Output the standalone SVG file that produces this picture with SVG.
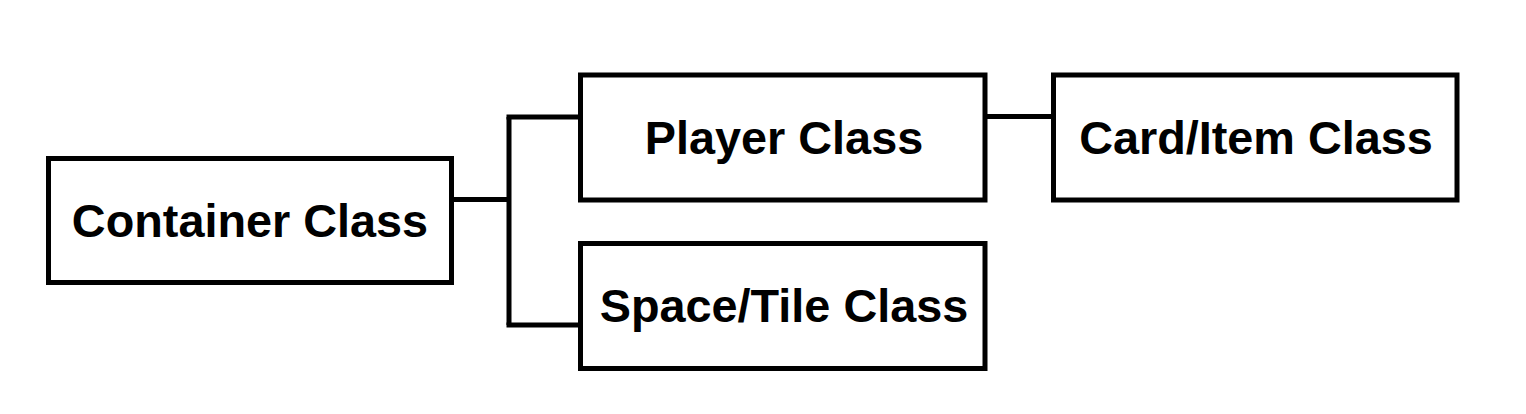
<svg xmlns="http://www.w3.org/2000/svg" width="1526" height="414" viewBox="0 0 1526 414">
<style>
.box{fill:#fff;stroke:#000;stroke-width:5}
.lbl{font-family:"Liberation Sans",Arial,sans-serif;font-weight:bold;font-size:46.8px;fill:#000;text-anchor:middle}
.conn{fill:none;stroke:#000;stroke-width:5}
</style>
<rect width="1526" height="414" fill="#fff"/>
<g id="connectors">
<path class="conn" d="M451,199.5 H509"/>
<path class="conn" d="M509,117 V325"/>
<path class="conn" d="M506.5,117 H581"/>
<path class="conn" d="M506.5,325 H581"/>
<path class="conn" d="M985,116.5 H1053"/>
</g>
<g id="container">
<rect class="box" x="48.5" y="158.5" width="403" height="124"/>
<text class="lbl" x="250" y="237">Container Class</text>
</g>
<g id="player">
<rect class="box" x="580.5" y="75" width="404.5" height="125"/>
<text class="lbl" x="784" y="154">Player Class</text>
</g>
<g id="space">
<rect class="box" x="580.5" y="243.5" width="404.5" height="125"/>
<text class="lbl" x="784" y="322">Space/Tile Class</text>
</g>
<g id="card">
<rect class="box" x="1053.5" y="75" width="403.5" height="125"/>
<text class="lbl" x="1256" y="154">Card/Item Class</text>
</g>
</svg>
